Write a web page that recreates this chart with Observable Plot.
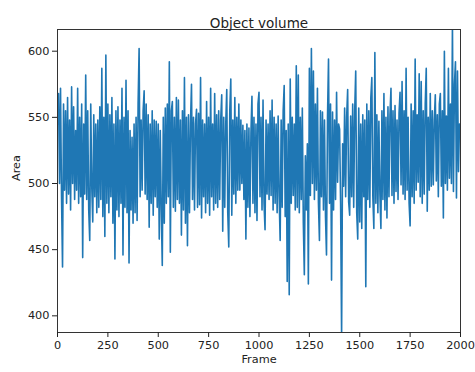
<!DOCTYPE html>
<html><head><meta charset="utf-8">
<script src="https://cdn.jsdelivr.net/npm/d3@7"></script>
<script src="https://cdn.jsdelivr.net/npm/@observablehq/plot@0.6"></script>
<style>body{margin:0;background:#fff}</style>
</head><body><div id="chart"></div>
<script>
const title = "Object volume";
const xLabel = "Frame";
const yLabel = "Area";
const frameStep = 5;
const area = [
545,568,500,572,490,437,560,495,555,485,
565,492,548,480,573,500,558,488,540,495,
572,485,550,490,560,444,545,492,582,488,
555,480,457,560,498,471,552,490,545,478,
548,482,558,488,587,475,550,460,597,485,
560,478,552,490,565,470,545,443,555,480,
558,475,548,485,572,446,550,482,578,478,
555,440,540,480,535,470,545,478,550,472,
560,602,490,548,495,555,570,492,560,488,
552,467,545,485,555,476,548,490,547,482,
545,458,540,480,438,550,470,557,485,560,
490,592,448,555,562,482,550,479,565,488,
563,485,548,461,555,480,580,470,550,453,
552,478,545,575,488,550,480,545,556,482,
553,484,580,474,548,490,545,478,562,485,
550,476,572,490,545,480,568,485,552,482,
555,488,548,567,464,550,482,545,571,478,
452,555,579,476,548,492,565,485,550,495,
560,495,548,500,544,488,540,458,545,482,
542,475,538,566,485,550,478,545,472,560,
569,490,550,480,563,485,465,548,492,545,
488,555,491,563,480,550,485,545,478,551,
490,457,548,482,555,574,475,540,426,545,
416,579,485,550,491,545,480,589,482,582,
478,550,488,557,470,431,521,480,530,424,
587,491,602,500,585,488,560,495,572,485,
457,555,490,554,480,548,475,446,550,594,
485,560,427,554,480,548,488,569,501,545,
541,485,385,530,498,557,490,550,571,486,
476,551,490,560,482,555,585,478,458,557,
471,545,466,552,490,548,422,560,488,555,
482,565,580,490,466,599,485,552,478,547,
492,466,555,488,568,480,550,474,558,490,
552,572,491,555,485,559,494,548,488,553,
569,499,577,492,555,488,587,495,550,485,
468,560,490,555,485,594,495,552,501,583,
490,577,485,555,492,560,587,479,550,495,
568,498,555,499,548,567,502,552,490,560,
568,498,555,474,600,500,551,495,587,504,
560,500,620,494,575,592,489,585,509,545
];
const xTicks = [0, 250, 500, 750, 1000, 1250, 1500, 1750, 2000];
const yTicks = [400, 450, 500, 550, 600];
const xDomain = [0, 2000];
const yDomain = [387.4, 616.4];

const frames = area.map((_, i) => i * frameStep);
const rows = frames.map((f, i) => ({frame: f, area: area[i]}));

const plot = Plot.plot({
  width: 475, height: 372,
  marginTop: 29, marginBottom: 40, marginLeft: 57, marginRight: 15,
  style: {fontFamily: "'DejaVu Sans', sans-serif", fontSize: "11.3px", color: "#222", background: "#fff"},
  x: {domain: xDomain, label: null},
  y: {domain: yDomain, label: null},
  marks: [
    Plot.line(rows, {x: "frame", y: "area", stroke: "#1f77b4", strokeWidth: 1.6, clip: true}),
    Plot.frame({stroke: "#333"}),
    Plot.axisX({ticks: xTicks, tickFormat: d3.format("d"), tickSize: 5, tickPadding: 3, label: null}),
    Plot.axisY({ticks: yTicks, tickFormat: d3.format("d"), tickSize: 5, tickPadding: 3, label: null}),
    Plot.text([title], {text: d => d, frameAnchor: "top", dy: -11, fontSize: 13.5, fill: "#222"}),
    Plot.text([xLabel], {text: d => d, frameAnchor: "bottom", dy: 30, fontSize: 11.3, fill: "#222"}),
    Plot.text([yLabel], {text: d => d, frameAnchor: "left", dx: -41.5, rotate: -90, fontSize: 11.3, fill: "#222"})
  ]
});
document.getElementById("chart").appendChild(plot);
</script>
</body></html>
